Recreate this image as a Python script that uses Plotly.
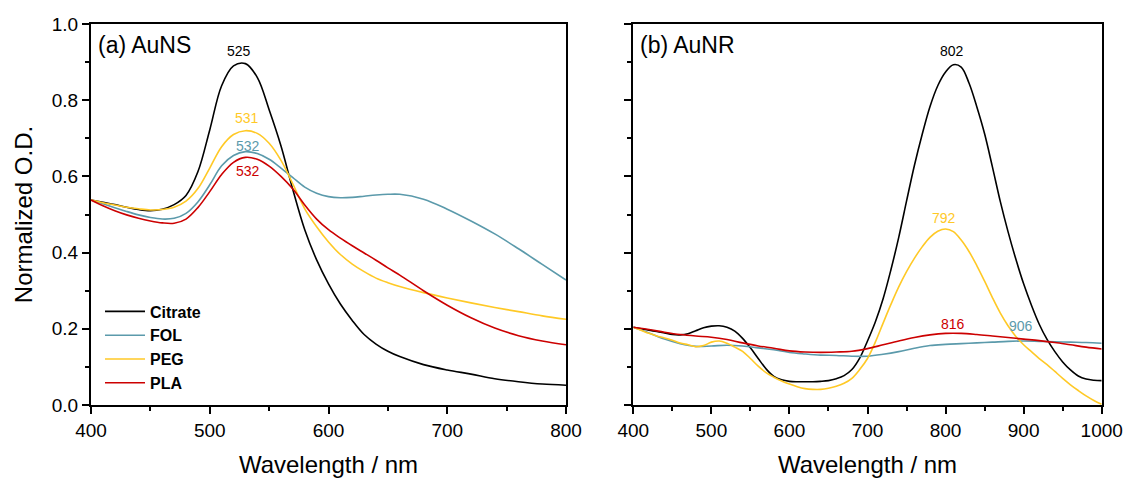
import plotly.graph_objects as go

# ---------------- Data: (a) AuNS ----------------
ns_wl = [400, 410, 420, 430, 440, 450, 460, 470, 480, 490, 500, 510, 520, 530, 540, 550, 560, 570, 580, 590,
         600, 610, 620, 630, 640, 650, 660, 680, 700, 720, 740, 760, 780, 800]
ns_citrate_od = [0.538, 0.532, 0.526, 0.519, 0.513, 0.510, 0.514, 0.526, 0.55, 0.612, 0.722, 0.838, 0.89, 0.896, 0.86, 0.775, 0.68, 0.565, 0.46, 0.381,
                 0.318, 0.265, 0.222, 0.185, 0.16, 0.141, 0.127, 0.106, 0.092, 0.081, 0.069, 0.061, 0.055, 0.052]
ns_fol_od = [0.538, 0.528, 0.518, 0.508, 0.499, 0.492, 0.488, 0.49, 0.503, 0.533, 0.578, 0.628, 0.655, 0.665, 0.66, 0.645, 0.622, 0.597, 0.572, 0.556,
             0.547, 0.544, 0.545, 0.548, 0.551, 0.553, 0.553, 0.54, 0.514, 0.483, 0.449, 0.41, 0.369, 0.328]
ns_peg_od = [0.538, 0.531, 0.525, 0.519, 0.515, 0.512, 0.513, 0.519, 0.535, 0.568, 0.622, 0.678, 0.71, 0.72, 0.713, 0.687, 0.642, 0.58, 0.515, 0.468,
             0.428, 0.395, 0.37, 0.35, 0.333, 0.321, 0.311, 0.295, 0.281, 0.268, 0.256, 0.245, 0.234, 0.225]
ns_pla_od = [0.538, 0.523, 0.51, 0.499, 0.49, 0.483, 0.478, 0.477, 0.488, 0.518, 0.56, 0.605, 0.637, 0.65, 0.645, 0.627, 0.6, 0.567, 0.525, 0.488,
             0.46, 0.438, 0.418, 0.399, 0.38, 0.36, 0.341, 0.3, 0.262, 0.229, 0.202, 0.182, 0.168, 0.158]

# ---------------- Data: (b) AuNR ----------------
nr_wl_fine = [400, 410, 420, 430, 440, 450, 460, 470, 480, 490, 500, 510, 520, 530, 540, 550, 560, 570, 580, 590,
              600, 610, 620, 630, 640, 650, 660, 670, 680, 690, 700, 710, 720, 730, 740, 750, 760, 770, 780, 790,
              800, 810, 820, 830, 840, 850, 860, 870, 880, 890, 900, 910, 920, 930, 940, 950, 960, 970, 980, 990, 1000]
nr_citrate_od = [0.204, 0.2, 0.196, 0.193, 0.189, 0.185, 0.184, 0.187, 0.195, 0.203, 0.207, 0.208, 0.204, 0.194, 0.175, 0.15, 0.122, 0.095, 0.075, 0.066,
                 0.062, 0.061, 0.061, 0.061, 0.062, 0.064, 0.069, 0.077, 0.093, 0.123, 0.168, 0.218, 0.279, 0.355, 0.44, 0.535, 0.628, 0.71, 0.783, 0.838,
                 0.874, 0.893, 0.887, 0.845, 0.783, 0.712, 0.625, 0.535, 0.455, 0.383, 0.318, 0.262, 0.212, 0.172, 0.14, 0.113, 0.092, 0.076, 0.068, 0.065, 0.064]
nr_peg_od = [0.204, 0.196, 0.188, 0.181, 0.176, 0.17, 0.163, 0.158, 0.153, 0.156, 0.165, 0.168, 0.162, 0.152, 0.141, 0.122, 0.102, 0.085, 0.073, 0.063,
             0.055, 0.048, 0.043, 0.041, 0.041, 0.044, 0.049, 0.057, 0.07, 0.093, 0.122, 0.165, 0.215, 0.264, 0.31, 0.35, 0.385, 0.415, 0.44, 0.456,
             0.462, 0.455, 0.433, 0.403, 0.366, 0.325, 0.282, 0.242, 0.208, 0.18, 0.158, 0.14, 0.122, 0.106, 0.088, 0.07, 0.053, 0.038, 0.024, 0.012, 0.002]

nr_wl_coarse = [400, 420, 440, 460, 480, 500, 520, 540, 560, 580, 600, 620, 640, 660, 680, 700,
                720, 740, 760, 780, 800, 820, 840, 860, 880, 900, 920, 940, 960, 980, 1000]
nr_fol_od = [0.204, 0.189, 0.173, 0.161, 0.154, 0.155, 0.157, 0.155, 0.15, 0.145, 0.138, 0.134, 0.131, 0.13, 0.128, 0.128,
             0.133, 0.14, 0.149, 0.156, 0.159, 0.161, 0.163, 0.165, 0.167, 0.168, 0.167, 0.166, 0.165, 0.164, 0.162]
nr_pla_od = [0.204, 0.198, 0.191, 0.185, 0.181, 0.178, 0.172, 0.163, 0.155, 0.149, 0.142, 0.139, 0.138, 0.139, 0.141, 0.148,
             0.158, 0.168, 0.177, 0.184, 0.188, 0.188, 0.185, 0.181, 0.177, 0.173, 0.169, 0.164, 0.158, 0.152, 0.147]

series_names = ["Citrate", "FOL", "PEG", "PLA"]
colors = {"Citrate": "#000000", "FOL": "#5b9aab", "PEG": "#ffc926", "PLA": "#cc0000"}

# peak labels: (panel, series, x, y, text)
peak_labels = [
    ("a", "Citrate", 525, 0.929, "525"),
    ("a", "PEG", 531, 0.753, "531"),
    ("a", "FOL", 532, 0.68, "532"),
    ("a", "PLA", 532, 0.614, "532"),
    ("b", "Citrate", 808, 0.929, "802"),
    ("b", "PEG", 798, 0.49, "792"),
    ("b", "PLA", 810, 0.213, "816"),
    ("b", "FOL", 897, 0.207, "906"),
]
panel_titles = ["(a) AuNS", "(b) AuNR"]

FONT = "Liberation Sans, Arial, sans-serif"

fig = go.Figure()
ns = {"Citrate": (ns_wl, ns_citrate_od), "FOL": (ns_wl, ns_fol_od),
      "PEG": (ns_wl, ns_peg_od), "PLA": (ns_wl, ns_pla_od)}
nr = {"Citrate": (nr_wl_fine, nr_citrate_od), "FOL": (nr_wl_coarse, nr_fol_od),
      "PEG": (nr_wl_fine, nr_peg_od), "PLA": (nr_wl_coarse, nr_pla_od)}

for name in series_names:
    x, y = ns[name]
    fig.add_trace(go.Scatter(x=x, y=y, mode="lines", name="<b>%s</b>" % name,
                             line=dict(color=colors[name], width=1.6, shape="spline", smoothing=1.0),
                             xaxis="x", yaxis="y", showlegend=True))
for name in series_names:
    x, y = nr[name]
    fig.add_trace(go.Scatter(x=x, y=y, mode="lines", name=name,
                             line=dict(color=colors[name], width=1.6, shape="spline", smoothing=1.0),
                             xaxis="x2", yaxis="y2", showlegend=False))

annotations = []
for panel, s, x, y, t in peak_labels:
    annotations.append(dict(x=x, y=y, xref="x" if panel == "a" else "x2",
                            yref="y" if panel == "a" else "y2", text=t, showarrow=False,
                            font=dict(size=14, color=colors[s], family=FONT)))
annotations.append(dict(x=0.01, y=0.945, xref="x domain", yref="y domain", text=panel_titles[0],
                        showarrow=False, xanchor="left", yanchor="middle",
                        font=dict(size=23, color="black", family=FONT)))
annotations.append(dict(x=0.01, y=0.945, xref="x2 domain", yref="y2 domain", text=panel_titles[1],
                        showarrow=False, xanchor="left", yanchor="middle",
                        font=dict(size=23, color="black", family=FONT)))

# page body has an 8px offset, so the figure is laid out 8px smaller
OFF = 8
W, H = 1133 - OFF, 478 - OFF
axis_common = dict(showline=True, linewidth=2, linecolor="black", mirror=True,
                   ticks="outside", ticklen=7, tickwidth=2, tickcolor="black",
                   showgrid=False, zeroline=False, automargin=False,
                   tickfont=dict(size=19, color="black", family=FONT))

fig.update_layout(
    width=W, height=H,
    margin=dict(l=0, r=0, t=24 - OFF, b=H - (405 - OFF)),
    plot_bgcolor="white", paper_bgcolor="white",
    font=dict(family=FONT, color="black"),
    showlegend=True,
    legend=dict(x=(100 - OFF) / W, y=0.29, xanchor="left", yanchor="top",
                bgcolor="rgba(0,0,0,0)", borderwidth=0,
                font=dict(size=16, color="black", family=FONT),
                itemwidth=40, tracegroupgap=0),
    xaxis=dict(domain=[(91 - OFF) / W, (566 - OFF) / W], range=[400, 800], dtick=100, tick0=400,
               minor=dict(ticks="outside", ticklen=4, tickwidth=1.5, tickcolor="black", dtick=50),
               title=dict(text="Wavelength / nm", font=dict(size=24, family=FONT), standoff=16),
               anchor="y", **axis_common),
    yaxis=dict(domain=[0, 1], range=[0, 1], dtick=0.2, tick0=0, tickformat=".1f",
               minor=dict(ticks="outside", ticklen=4, tickwidth=1.5, tickcolor="black", dtick=0.1),
               title=dict(text="Normalized O.D.", font=dict(size=24, family=FONT), standoff=12),
               anchor="x", **axis_common),
    xaxis2=dict(domain=[(633.3 - OFF) / W, (1101.7 - OFF) / W], range=[400, 1000], dtick=100, tick0=400,
                minor=dict(ticks="outside", ticklen=4, tickwidth=1.5, tickcolor="black", dtick=50),
                title=dict(text="Wavelength / nm", font=dict(size=24, family=FONT), standoff=16),
                anchor="y2", **axis_common),
    yaxis2=dict(domain=[0, 1], range=[0, 1], dtick=0.2, tick0=0, showticklabels=False,
                minor=dict(ticks="outside", ticklen=4, tickwidth=1.5, tickcolor="black", dtick=0.1),
                anchor="x2", **axis_common),
    annotations=annotations,
)

fig.write_html("out.html")
